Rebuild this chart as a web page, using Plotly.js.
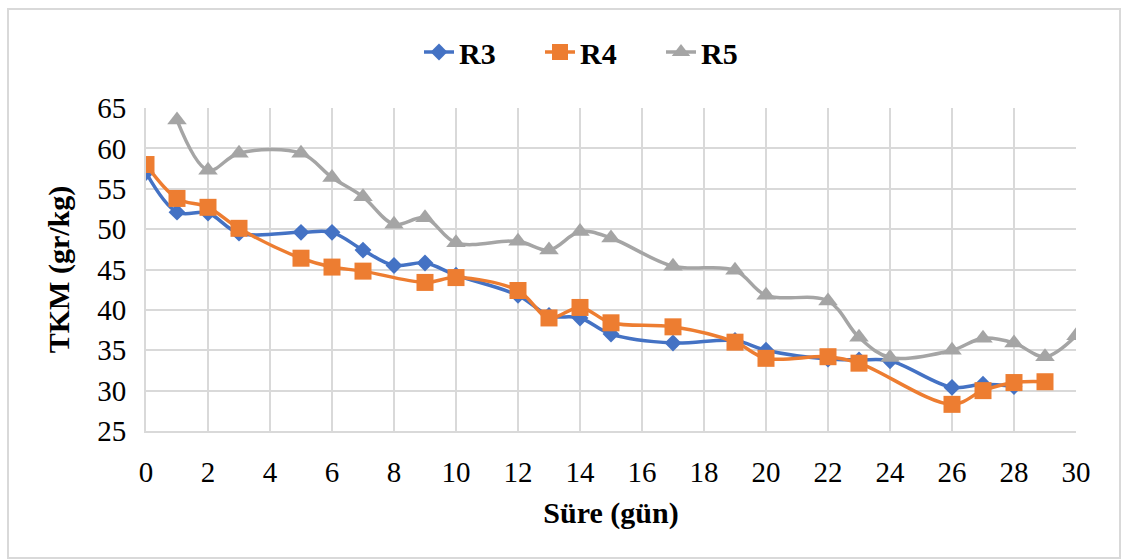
<!DOCTYPE html>
<html>
<head>
<meta charset="utf-8">
<script src="https://cdn.plot.ly/plotly-3.0.1.min.js"></script>
</head>
<body style="margin:0;background:#fff">
<div id="chart" style="width:1121px;height:559px"></div>
<script>
// Data
var r3Days = [0, 1, 2, 3, 5, 6, 7, 8, 9, 10, 12, 13, 14, 15, 17, 19, 20, 22, 23, 24, 26, 27, 28];
var r3Values = [57.0, 52.1, 52.0, 49.5, 49.6, 49.6, 47.4, 45.5, 45.8, 44.3, 41.8, 39.3, 39.0, 37.0, 35.9, 36.2, 35.0, 33.9, 33.8, 33.7, 30.4, 30.8, 30.5];

var r4Days = [0, 1, 2, 3, 5, 6, 7, 9, 10, 12, 13, 14, 15, 17, 19, 20, 22, 23, 26, 27, 28, 29];
var r4Values = [58.0, 53.8, 52.7, 50.1, 46.4, 45.3, 44.8, 43.4, 44.0, 42.4, 39.0, 40.3, 38.4, 37.9, 36.0, 34.0, 34.2, 33.4, 28.3, 30.0, 31.0, 31.1];

var r5Days = [1, 2, 3, 5, 6, 7, 8, 9, 10, 12, 13, 14, 15, 17, 19, 20, 22, 23, 24, 26, 27, 28, 29, 30];
var r5Values = [63.5, 57.3, 59.4, 59.4, 56.4, 54.0, 50.6, 51.4, 48.3, 48.5, 47.4, 49.7, 48.9, 45.4, 44.9, 41.8, 41.1, 36.6, 34.1, 35.0, 36.5, 35.9, 34.2, 36.8];

var seriesNames = ["R3", "R4", "R5"];
var xAxisTitle = "Süre (gün)";
var yAxisTitle = "TKM (gr/kg)";

(function drawChart() {
  var fam = "Liberation Serif";
  var plotLeft = 146, plotRight = 1076, plotTop = 108, plotBottom = 431, figW = 1121, figH = 559;
  var plotW = plotRight - plotLeft, plotH = plotBottom - plotTop;

  var traces = [
    {
      x: r3Days, y: r3Values, name: seriesNames[0], type: "scatter", mode: "lines+markers",
      line: { color: "#4472C4", width: 3.5, shape: "spline", smoothing: 1 },
      marker: { symbol: "diamond", size: 13, color: "#4472C4" }
    },
    {
      x: r4Days, y: r4Values, name: seriesNames[1], type: "scatter", mode: "lines+markers",
      line: { color: "#ED7D31", width: 3.5, shape: "spline", smoothing: 1 },
      marker: { symbol: "square", size: 17, color: "#ED7D31" }
    },
    {
      x: r5Days, y: r5Values, name: seriesNames[2], type: "scatter", mode: "lines+markers",
      line: { color: "#A5A5A5", width: 3.5, shape: "spline", smoothing: 1 },
      marker: { symbol: "triangle-up", size: 17, color: "#A5A5A5" }
    }
  ];

  var layout = {
    width: figW, height: figH,
    margin: { l: plotLeft, r: figW - plotRight, t: plotTop, b: figH - plotBottom, pad: 0 },
    paper_bgcolor: "#ffffff",
    plot_bgcolor: "#ffffff",
    font: { family: fam, size: 29, color: "#000000" },
    showlegend: true,
    legend: {
      orientation: "h",
      x: (419 - plotLeft) / plotW, xanchor: "left",
      y: (plotBottom - 52) / plotH, yanchor: "middle",
      font: { family: fam, size: 30, color: "#000000", weight: "bold" },
      entrywidth: 76, entrywidthmode: "pixels",
      itemwidth: 30,
      bgcolor: "rgba(0,0,0,0)"
    },
    xaxis: {
      range: [0, 30], dtick: 2, tick0: 0,
      showgrid: true, gridcolor: "#D9D9D9", gridwidth: 2,
      zeroline: false,
      showline: true, linecolor: "#D9D9D9", linewidth: 2,
      ticks: "outside", ticklen: 14, tickcolor: "rgba(0,0,0,0)",
      tickfont: { family: fam, size: 29, color: "#000" },
      title: { text: xAxisTitle, font: { family: fam, size: 30, color: "#000", weight: "bold" }, standoff: 15 },
      automargin: false, fixedrange: true
    },
    yaxis: {
      range: [25, 65], dtick: 5, tick0: 25,
      showgrid: true, gridcolor: "#D9D9D9", gridwidth: 2,
      zeroline: false,
      showline: true, linecolor: "#D9D9D9", linewidth: 2,
      ticks: "outside", ticklen: 12, tickcolor: "rgba(0,0,0,0)",
      tickfont: { family: fam, size: 29, color: "#000" },
      title: { text: yAxisTitle, font: { family: fam, size: 30, color: "#000", weight: "bold" }, standoff: 19 },
      automargin: false, fixedrange: true
    },
    shapes: [
      {
        type: "rect", xref: "paper", yref: "paper",
        x0: (8 - plotLeft) / plotW, x1: (1120 - plotLeft) / plotW,
        y0: (plotBottom - 558) / plotH, y1: (plotBottom - 9) / plotH,
        line: { color: "#D9D9D9", width: 2 }, fillcolor: "rgba(0,0,0,0)", layer: "below"
      }
    ]
  };

  Plotly.newPlot("chart", traces, layout, { staticPlot: true });
})();
</script>
</body>
</html>
